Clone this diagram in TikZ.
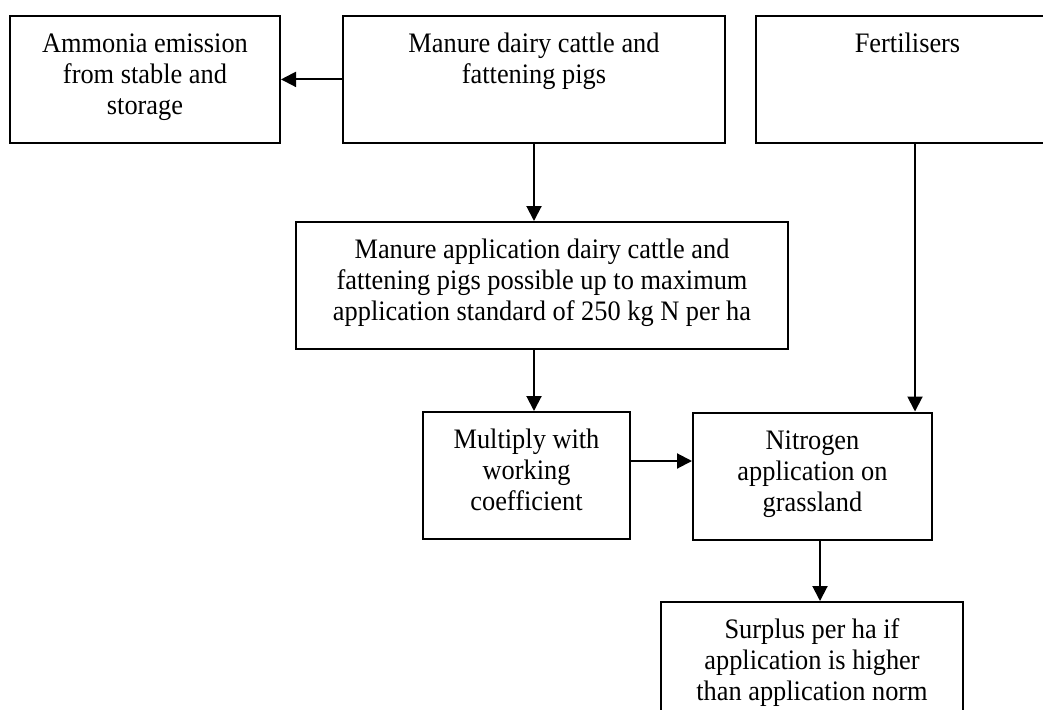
\documentclass[tikz,border=0pt]{standalone}
\usepackage{fontspec}
\setmainfont[FakeStretch=0.935]{Liberation Serif}
\usetikzlibrary{arrows.meta}
\newcommand{\bxtext}[3]{\parbox[c][#2pt][t]{#1pt}{\centering\rule{0pt}{36.5pt}#3\par}}
\begin{document}
\begin{tikzpicture}[x=1pt,y=-1pt,
  box/.style={draw,line width=2pt,inner sep=0pt,font=\fontsize{28.2}{31}\selectfont},
  conn/.style={line width=2pt,-{Triangle[length=15pt,width=15pt]}}]
\useasboundingbox (0,0) rectangle (1043,709);
\node[box] (amm) at (145,79.4) {\bxtext{270}{127.3}{Ammonia emission\\from stable and\\storage}};
\node[box] (man) at (534,79.4) {\bxtext{382}{127.3}{Manure dairy cattle and\\fattening pigs}};
\node[box] (fer) at (907.5,79.4) {\bxtext{303}{127.3}{Fertilisers}};
\node[box] (app) at (542,285.5) {\bxtext{492}{127}{Manure application dairy cattle and\\fattening pigs possible up to maximum\\application standard of 250 kg N per ha}};
\node[box] (mul) at (526.5,475.5) {\bxtext{207}{127}{Multiply with\\working\\coefficient}};
\node[box] (nit) at (812.5,476) {\bxtext{239}{127}{Nitrogen\\application on\\grassland}};
\node[box] (sur) at (812,665.5) {\bxtext{302}{127}{Surplus per ha if\\application is higher\\than application norm}};
\coordinate (a1) at (man.south |- app.south);
\coordinate (f1) at ([xshift=7.5pt]fer.south);
\coordinate (n1) at ([xshift=7.5pt]nit.south);
\coordinate (m1) at ([yshift=14.5pt]mul.east);
\draw[conn] (man.west) -- (amm.east);
\draw[conn] (man.south) -- (man.south |- app.north);
\draw[conn] (a1) -- (a1 |- mul.north);
\draw[conn] (m1) -- (m1 -| nit.west);
\draw[conn] (f1) -- (f1 |- nit.north);
\draw[conn] (n1) -- (n1 |- sur.north);
\end{tikzpicture}
\end{document}
